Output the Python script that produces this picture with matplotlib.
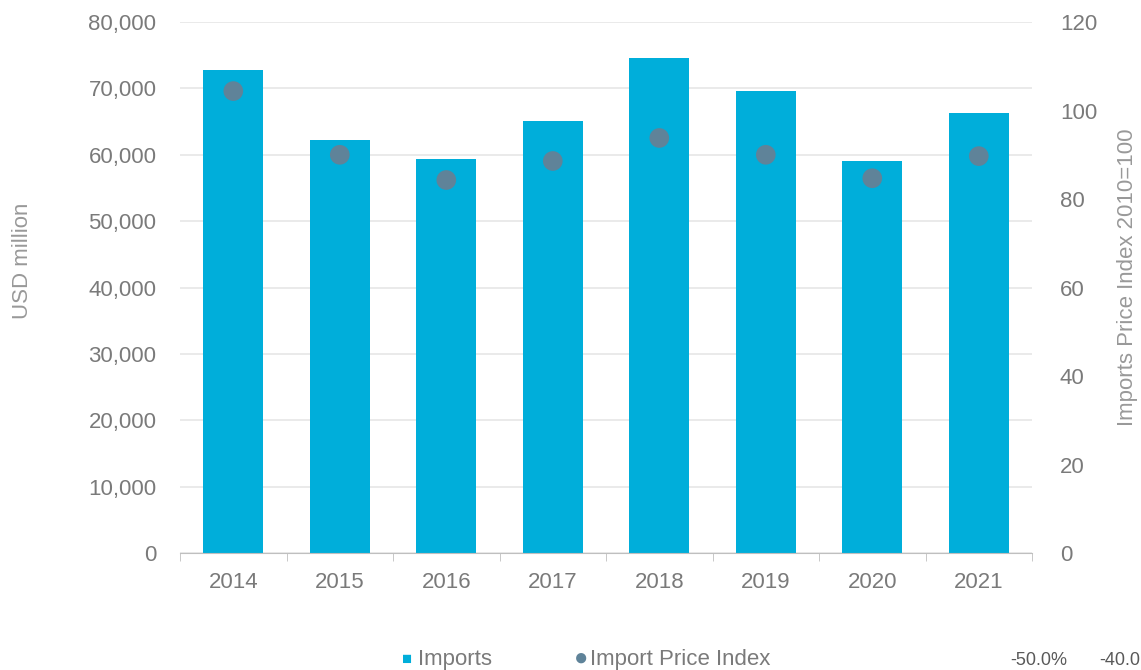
import matplotlib.pyplot as plt
import numpy as np

plt.rcParams['font.family'] = ['Liberation Sans', 'DejaVu Sans']

years = ['2014', '2015', '2016', '2017', '2018', '2019', '2020', '2021']
imports = [72800, 62200, 59300, 65100, 74600, 69600, 59100, 66300]
price_index = [104.4, 90.0, 84.3, 88.6, 93.8, 90.0, 84.7, 89.7]

bar_c = '#00AEDA'
dot_c = '#5F8399'
lab_c = '#7A7A7A'
txt_c = '#999999'
fs = 16

fig = plt.figure(figsize=(11.41, 6.7), dpi=100)
ax = fig.add_axes([0.1578, 0.1746, 0.7467, 0.7925])
x = np.arange(len(years))
ax.bar(x, imports, width=0.56, color=bar_c, zorder=2)
ax.set_xlim(-0.5, len(years) - 0.5)
ax.set_ylim(0, 80000)
ax.set_yticks(np.arange(0, 80001, 10000))
ax.set_yticklabels([f'{v:,}' for v in range(0, 80001, 10000)])
ax.grid(axis='y', color='#E6E6E6', lw=1.2, zorder=0)
ax.set_xticks(x)
ax.set_xticklabels(years)
ax.set_xticks(np.arange(-0.5, len(years)), minor=True)
ax.tick_params(axis='x', which='major', length=0, pad=14, labelsize=fs, labelcolor=lab_c)
ax.tick_params(axis='x', which='minor', length=6, color='#BFBFBF')
ax.tick_params(axis='y', length=0, pad=17, labelsize=fs, labelcolor=lab_c)
for s in ['top', 'left', 'right']:
    ax.spines[s].set_visible(False)
ax.spines['bottom'].set_color('#BFBFBF')
ax.set_ylabel('USD million', color=txt_c, fontsize=fs)
ax.yaxis.set_label_coords(-0.173, 0.55)

ax2 = ax.twinx()
ax2.scatter(x, price_index, s=200, color=dot_c, zorder=3, edgecolors='none')
ax2.set_ylim(0, 120)
ax2.set_yticks(np.arange(0, 121, 20))
ax2.tick_params(axis='y', length=0, pad=20, labelsize=fs, labelcolor=lab_c)
for s in ['top', 'left', 'right', 'bottom']:
    ax2.spines[s].set_visible(False)
ax2.set_ylabel('Imports Price Index 2010=100', color=txt_c, fontsize=fs)
ax2.yaxis.set_label_coords(1.1, 0.52)

# legend
fig.text(0.357, 0.004, '\u25A0', color=bar_c, fontsize=12, ha='center', va='bottom')
fig.text(0.366, 0.0, 'Imports', color=lab_c, fontsize=fs, ha='left', va='bottom')
fig.text(0.509, 0.0, '\u25CF', color=dot_c, fontsize=17, ha='center', va='bottom')
fig.text(0.517, 0.0, 'Import Price Index', color=lab_c, fontsize=fs, ha='left', va='bottom')

fig.text(0.885, 0.002, '-50.0%', color='#595959', fontsize=13, ha='left', va='bottom')
fig.text(0.963, 0.002, '-40.0', color='#595959', fontsize=13, ha='left', va='bottom')

fig.savefig('out.png', dpi=100)
